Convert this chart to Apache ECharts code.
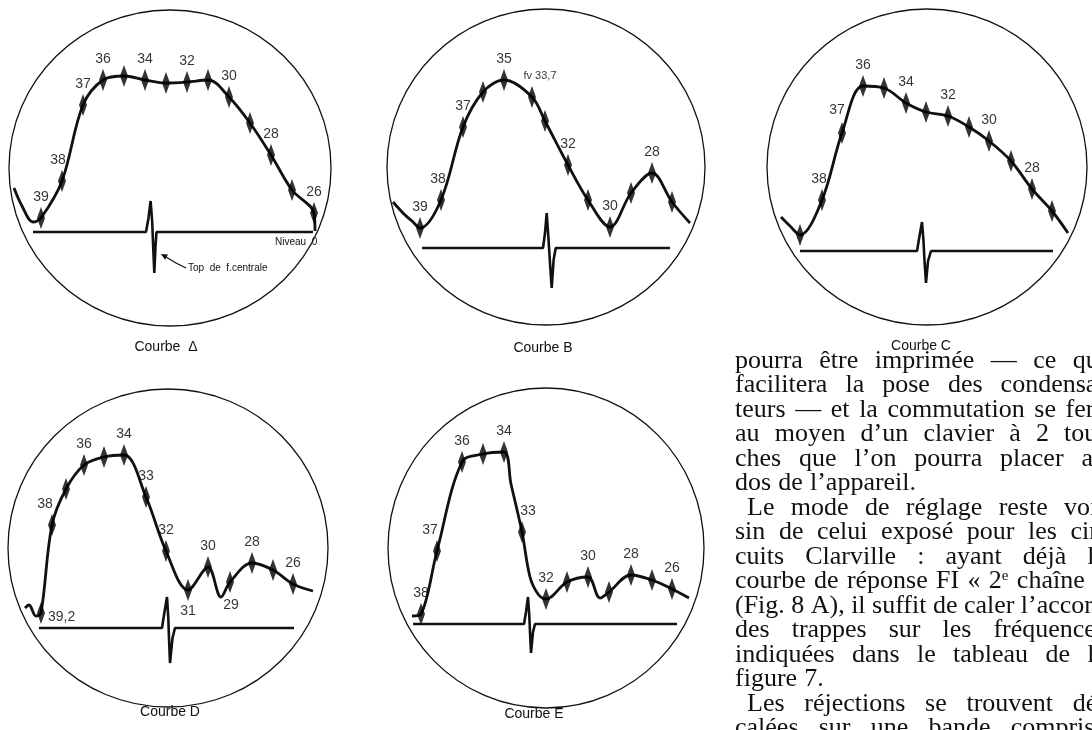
<!DOCTYPE html>
<html>
<head>
<meta charset="utf-8">
<script src="https://cdn.jsdelivr.net/npm/echarts@6/dist/echarts.min.js"></script>
<style>
  html, body { margin: 0; background: #fff; }
  #main { width: 1092px; height: 730px; }
</style>
</head>
<body>
<div id="main"></div>
<script>
// points: x = px from panel left, y = px above "niveau 0"
// Courbe A
const aLabels = ['39', '38', '37', '36', '', '34', '', '32', '', '30', '', '28', '', '26']
const aX = [41, 62, 83, 103, 124, 145, 166, 187, 208, 229, 250, 271, 292, 314]
const aY = [14, 51, 127, 152, 156, 152, 149, 150, 152, 135, 109, 77, 42, 19]
const aExtra = [[14, 44], [22, 26], [33, 10], [315, 1]]
const aBase = [[33, 0], [146, 0], [148.5, 14], [150.6, 31], [152.2, 10], [153.2, -15], [154.3, -41], [155.5, -14], [156.5, 0], [313, 0]]
// Courbe B
const bLabels = ['39', '38', '37', '', '35', 'fv 33,7', '', '32', '', '30', '', '28', '']
const bX = [40, 61, 83, 103, 124, 152, 165, 188, 208, 230, 251, 272, 292]
const bY = [20, 48, 121, 156, 168, 151, 127, 83, 48, 21, 55, 75, 46]
const bExtra = [[13, 46], [24, 34], [33, 26], [310, 25]]
const bBase = [[42, 0], [163, 0], [165, 15], [166.7, 35], [168.3, 12], [169.8, -12], [171.7, -40], [173.6, -12], [175.7, 0], [290, 0]]
// Courbe C
const cLabels = ['', '38', '37', '36', '', '34', '', '32', '', '30', '', '28', '']
const cX = [40, 62, 82, 103, 124, 146, 166, 188, 209, 229, 251, 272, 292]
const cY = [16, 51, 118, 165, 163, 148, 139, 135, 124, 110, 90, 62, 40]
const cExtra = [[21, 34], [30, 25], [308, 18]]
const cBase = [[40, 0], [157, 0], [159, 12], [162, 29], [163.5, 10], [164.5, -10], [166, -32], [168, -10], [171, 0], [293, 0]]
// Courbe D
const dLabels = ['39,2', '38', '', '36', '', '34', '33', '32', '31', '30', '29', '28', '', '26']
const dX = [41, 52, 66, 84, 104, 124, 146, 166, 188, 208, 230, 252, 273, 293]
const dY = [15, 103, 139, 163, 171, 173, 131, 77, 38, 61, 46, 65, 58, 44]
const dExtra = [[25, 20], [29, 23], [36, 12], [221, 31], [313, 37]]
const dBase = [[39, 0], [162, 0], [164, 13], [167, 31], [168.3, 10], [169, -10], [170, -35], [172.5, -10], [175, 0], [294, 0]]
// Courbe E
const eLabels = ['38', '37', '36', '', '34', '33', '32', '', '30', '', '28', '', '26']
const eX = [41, 57, 82, 103, 124, 142, 166, 187, 208, 229, 251, 272, 292]
const eY = [10, 73, 162, 170, 172, 92, 25, 42, 47, 32, 49, 44, 35]
const eExtra = [[32, 8], [131, 140], [150, 47], [158, 30], [220, 26], [309, 26]]
const eBase = [[33, 0], [144, 0], [146, 12], [148, 27], [149.3, 8], [150, -8], [151, -29], [153, -8], [155, 0], [297, 0]]

const captions = ['Courbe  Δ', 'Courbe B', 'Courbe C', 'Courbe D', 'Courbe E']

const textLines = [
  'pourra être imprimée — ce qui',
  'facilitera la pose des condensa-',
  'teurs — et la commutation se fera',
  'au moyen d’un clavier à 2 tou-',
  'ches que l’on pourra placer au',
  'dos de l’appareil.',
  '  Le mode de réglage reste voi-',
  'sin de celui exposé pour les cir-',
  'cuits Clarville : ayant déjà la',
  'courbe de réponse FI « 2e chaîne »',
  '(Fig. 8 A), il suffit de caler l’accord',
  'des trappes sur les fréquences',
  'indiquées dans le tableau de la',
  'figure 7.',
  '  Les réjections se trouvent dé-',
  'calées sur une bande comprise'
]

const SANS = "'Liberation Sans','DejaVu Sans',sans-serif"
const SERIF = "'Liberation Serif','DejaVu Serif',serif"
const INK = '#111'

// panel layout: left, top of grid and pixel row of the zero level
const panels = [
  { key: 'A', left: 0, top: 0, zero: 232, labels: aLabels, x: aX, y: aY, extra: aExtra, base: aBase, circle: [170, 168, 161, 158], cap: [166, 347] },
  { key: 'B', left: 380, top: 0, zero: 248, labels: bLabels, x: bX, y: bY, extra: bExtra, base: bBase, circle: [546, 167, 159, 158], cap: [543, 348] },
  { key: 'C', left: 760, top: 0, zero: 251, labels: cLabels, x: cX, y: cY, extra: cExtra, base: cBase, circle: [927, 167, 160, 158], cap: [921, 346] },
  { key: 'D', left: 0, top: 370, zero: 628, labels: dLabels, x: dX, y: dY, extra: dExtra, base: dBase, circle: [168, 548, 160, 159], cap: [170, 712] },
  { key: 'E', left: 380, top: 370, zero: 624, labels: eLabels, x: eX, y: eY, extra: eExtra, base: eBase, circle: [546, 548, 158, 160], cap: [534, 714] }
]

// a few labels sit beside their marker instead of above it
const labelTweaks = {
  'A:38': { offset: [-4, 0] },
  'B:38': { offset: [-3, 0] },
  'B:fv 33,7': { offset: [8, -2], fontSize: 11 },
  'C:37': { offset: [-5, -2] },
  'C:38': { offset: [-3, 0] },
  'D:39,2': { position: 'right', offset: [0, 4] },
  'D:38': { offset: [-7, 0] },
  'D:31': { position: 'bottom' },
  'D:29': { position: 'bottom', offset: [1, 2] },
  'E:37': { offset: [-7, 0] },
  'E:33': { offset: [6, 0] }
}

const SIZE = 350
const grid = [], xAxis = [], yAxis = [], series = [], graphic = []

panels.forEach((p, i) => {
  grid.push({ left: p.left, top: p.top, width: SIZE, height: SIZE, outerBoundsMode: 'none' })
  xAxis.push({ type: 'value', gridIndex: i, min: 0, max: SIZE, show: false })
  yAxis.push({ type: 'value', gridIndex: i, min: p.zero - (p.top + SIZE), max: p.zero - p.top, show: false })

  const marks = p.x.map((x, j) => [x, p.y[j]])
  const trace = marks.concat(p.extra).sort((u, v) => u[0] - v[0])

  series.push({
    type: 'line', xAxisIndex: i, yAxisIndex: i, data: p.base,
    symbol: 'none', lineStyle: { color: INK, width: 2.6 }, z: 2, silent: true
  })
  series.push({
    type: 'line', xAxisIndex: i, yAxisIndex: i, data: trace,
    smooth: 0.35, symbol: 'none', lineStyle: { color: INK, width: 2.8 }, z: 2, silent: true
  })
  series.push({
    type: 'scatter', xAxisIndex: i, yAxisIndex: i,
    symbol: 'diamond', symbolSize: [8, 22],
    itemStyle: { color: '#000' },
    z: 3, silent: true,
    label: {
      show: true, position: 'top', distance: 3,
      formatter: '{b}', color: '#000', fontSize: 14, fontFamily: SANS
    },
    data: marks.map((v, j) => {
      const name = p.labels[j]
      const item = { value: v, name: name }
      if (!name) item.label = { show: false }
      const t = labelTweaks[p.key + ':' + name]
      if (t) item.label = Object.assign({ show: true }, t)
      return item
    })
  })

  const c = p.circle
  graphic.push({
    type: 'ellipse', shape: { cx: c[0], cy: c[1], rx: c[2], ry: c[3] },
    style: { fill: 'none', stroke: INK, lineWidth: 1.3 }, z: 1
  })
  graphic.push({
    type: 'text', x: p.cap[0], y: p.cap[1],
    style: { text: captions[i], fill: INK, fontSize: 14, fontFamily: SANS, align: 'center', verticalAlign: 'middle' }
  })
})

// annotations of courbe A
graphic.push({
  type: 'text', x: 275, y: 242,
  style: { text: 'Niveau  0', fill: INK, fontSize: 10, fontFamily: SANS, verticalAlign: 'middle' }
})
graphic.push({
  type: 'text', x: 188, y: 268,
  style: { text: 'Top  de  f.centrale', fill: INK, fontSize: 10, fontFamily: SANS, verticalAlign: 'middle' }
})
graphic.push({
  type: 'polyline', shape: { points: [[186, 268], [176, 263], [166, 257]] },
  style: { stroke: INK, lineWidth: 1.2, fill: 'none' }
})
graphic.push({
  type: 'polygon', shape: { points: [[161, 254], [168, 254.5], [165, 259.7]] },
  style: { fill: INK }
})

// justified text column on the right
const FONT_PX = 26
const measure = document.createElement('canvas').getContext('2d')
function wordWidth (w) {
  if (w === '2e') {
    measure.font = FONT_PX + 'px ' + SERIF
    const a = measure.measureText('2').width
    measure.font = '15px ' + SERIF
    return a + measure.measureText('e').width
  }
  measure.font = FONT_PX + 'px ' + SERIF
  return measure.measureText(w).width
}
const colLeft = 735, colRight = 1106, lineTop = 361, lineStep = 24.5
textLines.forEach((line, k) => {
  const indent = line.startsWith('  ') ? 12 : 0
  const words = line.trim().split(' ')
  const widths = words.map(wordWidth)
  const total = widths.reduce((s, w) => s + w, 0)
  const justify = !line.endsWith('.') && words.length > 1
  const gap = justify ? (colRight - colLeft - indent - total) / (words.length - 1) : wordWidth(' ') * 1.1
  let x = colLeft + indent
  words.forEach((w, j) => {
    const el = {
      type: 'text', x: x, y: lineTop + k * lineStep,
      style: { text: w, fill: INK, fontSize: FONT_PX, fontFamily: SERIF, verticalAlign: 'middle' }
    }
    if (w === '2e') {
      el.style.text = '2{s|e}'
      el.style.rich = { s: { fontSize: 15, fontFamily: SERIF, fill: INK, verticalAlign: 'top' } }
    }
    graphic.push(el)
    x += widths[j] + gap
  })
})

const chart = echarts.init(document.getElementById('main'), null, { renderer: 'canvas' })
chart.setOption({
  backgroundColor: '#fff',
  animation: false,
  grid: grid,
  xAxis: xAxis,
  yAxis: yAxis,
  series: series,
  graphic: graphic
})
</script>
</body>
</html>
